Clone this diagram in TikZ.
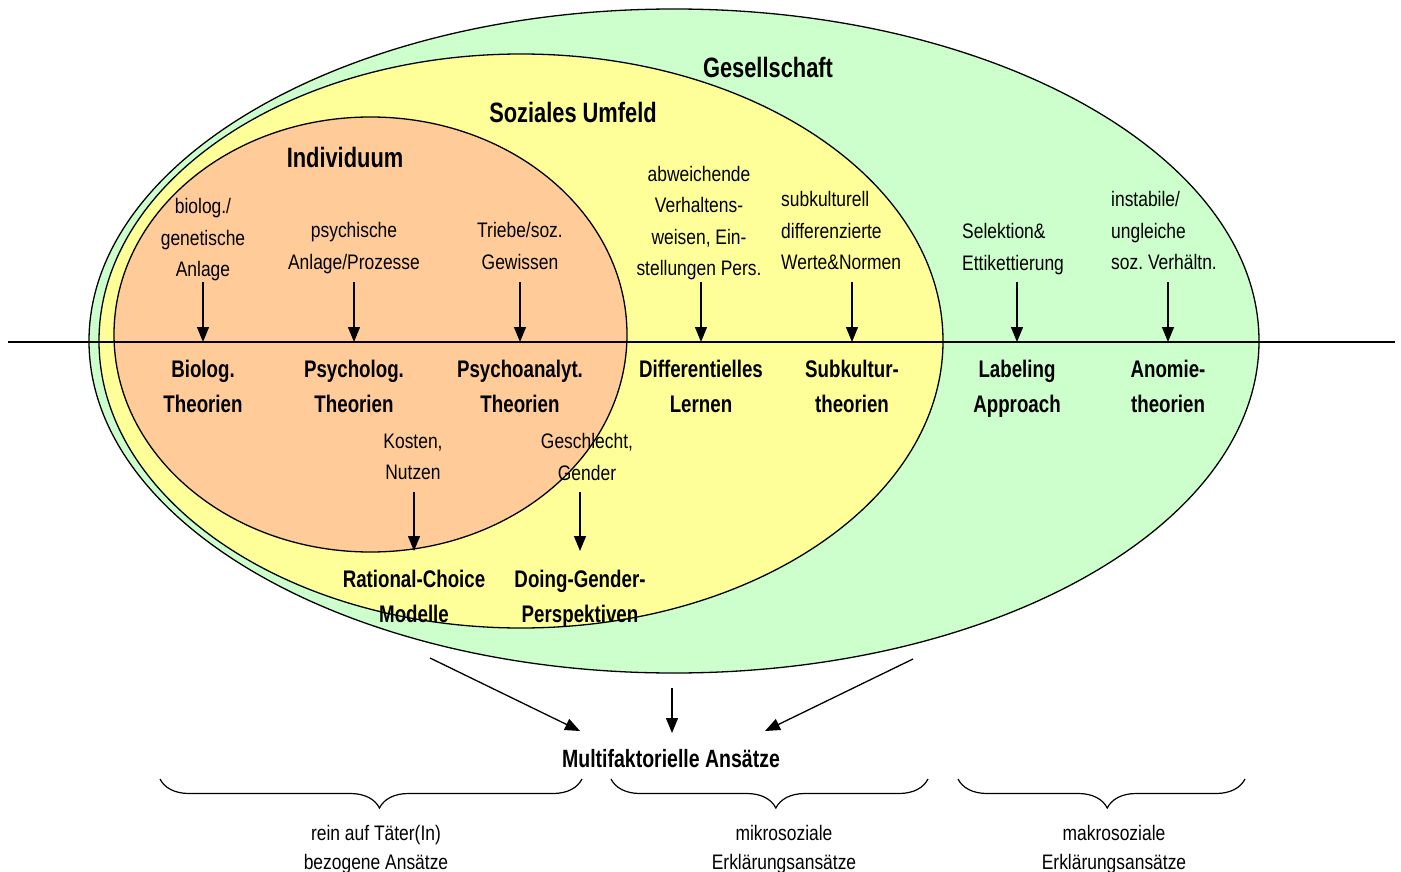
\documentclass[tikz,border=0pt]{standalone}
\usepackage{fontspec}
\setmainfont{Liberation Sans}[FakeStretch=0.83]
\newfontfamily\bnarrow{Liberation Sans}[FakeStretch=0.78]
\usetikzlibrary{arrows.meta,decorations.pathreplacing}
\definecolor{gGreen}{HTML}{CCFFCC}
\definecolor{gYellow}{HTML}{FFFF99}
\definecolor{gOrange}{HTML}{FFCC99}
\frenchspacing
\begin{document}
\begin{tikzpicture}[x=1pt,y=-1pt,
  ell/.style={draw=black,line width=1.3pt},
  arr/.style={line width=1.3pt,-{Triangle[length=15pt,width=12pt]}},
  head/.style={font=\fontsize{28}{32}\bnarrow\bfseries,inner sep=0pt},
  lbl/.style={font=\fontsize{24}{35}\bnarrow\bfseries,align=center,inner sep=0pt,yshift=-5pt,
    execute at begin node=\strut, execute at end node=\strut},
  mfs/.style={font=\fontsize{25}{30}\bnarrow\bfseries,inner sep=0pt},
  txt/.style={font=\fontsize{21}{31.5}\selectfont,align=center,inner sep=0pt,yshift=-4.5pt,
    execute at begin node=\strut, execute at end node=\strut},
  txtl/.style={txt,align=left},
  btxt/.style={font=\fontsize{21}{29}\selectfont,align=center,inner sep=0pt,yshift=-4pt,
    execute at begin node=\strut, execute at end node=\strut},
  brc/.style={line width=1.2pt,decorate,decoration={brace,mirror,amplitude=29pt,aspect=0.52}}
]
\useasboundingbox (0,0) rectangle (1401,872);
% ellipses
\draw[ell,fill=gGreen] (674,341) ellipse [x radius=585pt, y radius=332pt];
\draw[ell,fill=gYellow] (521,341) ellipse [x radius=422pt, y radius=287pt];
\draw[ell,fill=gOrange] (370.5,334.5) ellipse [x radius=256.5pt, y radius=217.5pt];
% horizontal line
\coordinate (hlL) at (8,342);
\coordinate (hlR) at (1395,342);
\draw[line width=1.3pt] (hlL) -- (hlR);
\coordinate (topA) at (0,282);
\coordinate (midA) at (0,492);
\coordinate (obot) at (0,551);
% headings
\node[head] (gesellschaft) at (768,67) {Gesellschaft};
\node[head] (umfeld) at (573,112) {Soziales Umfeld};
\node[head] (individuum) at (345,157) {Individuum};
% upper texts
\node[txt] (t1) at (203,238) {biolog./\\genetische\\Anlage};
\node[txt] (t2) at (354,246) {psychische\\Anlage/Prozesse};
\node[txt] (t3) at (520,246) {Triebe/soz.\\Gewissen};
\node[txt] (t4) at (699,221) {abweichende\\Verhaltens-\\weisen, Ein-\\stellungen Pers.};
\node[txtl,anchor=west] (t5) at (781,231) {subkulturell\\differenzierte\\Werte\&Normen};
\node[txtl,anchor=west] (t6) at (962,247) {Selektion\&\\Ettikettierung};
\node[txtl,anchor=west] (t7) at (1111,231) {instabile/\\ungleiche\\soz.\ Verhältn.};
% theory labels
\node[lbl] (b1) at (203,386.5) {Biolog.\\Theorien};
\node[lbl] (b2) at (354,386.5) {Psycholog.\\Theorien};
\node[lbl] (b3) at (520,386.5) {Psychoanalyt.\\Theorien};
\node[lbl] (b4) at (701,386.5) {Differentielles\\Lernen};
\node[lbl] (b5) at (852,386.5) {Subkultur-\\theorien};
\node[lbl] (b6) at (1017,386.5) {Labeling\\Approach};
\node[lbl] (b7) at (1168,386.5) {Anomie-\\theorien};
% arrows upper
\foreach \i in {1,...,7}{
  \draw[arr] (b\i |- topA) -- (b\i |- hlL);
}
% lower texts
\node[txt] (k) at (413,457) {Kosten,\\Nutzen};
\node[txt] (g) at (587,457) {Geschlecht,\\Gender};
\node[lbl] (rc) at (414,597) {Rational-Choice\\Modelle};
\node[lbl] (dg) at (580,597) {Doing-Gender-\\Perspektiven};
\draw[arr] (rc |- midA) -- (rc |- obot);
\draw[arr] (dg |- midA) -- (dg |- obot);
% multifactorial
\node[mfs] (mf) at (671,759) {Multifaktorielle Ansätze};
\coordinate (s1) at (430,658);
\coordinate (s2) at (672,688);
\coordinate (s3) at (913,659);
\coordinate (e1) at (580,731);
\coordinate (e2) at (672,733);
\coordinate (e3) at (765,731);
\draw[arr] (s1) -- (e1);
\draw[arr] (s2) -- (e2);
\draw[arr] (s3) -- (e3);
% braces
\draw[brc] (160,779) -- (582,779);
\draw[brc] (611,779) -- (928,779);
\draw[brc] (958,779) -- (1245,779);
\node[btxt] (bt1) at (376,847.5) {rein auf Täter(In)\\bezogene Ansätze};
\node[btxt] (bt2) at (784,847.5) {mikrosoziale\\Erklärungsansätze};
\node[btxt] (bt3) at (1114,847.5) {makrosoziale\\Erklärungsansätze};
\end{tikzpicture}
\end{document}
